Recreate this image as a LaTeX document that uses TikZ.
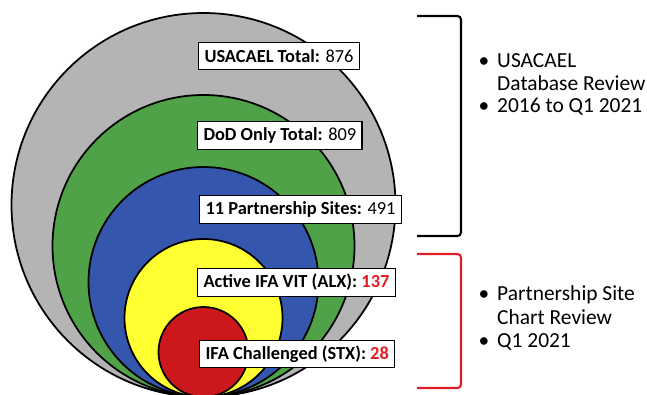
\documentclass[tikz,border=0pt]{standalone}
\usepackage{fontspec}
\setmainfont{Carlito}
\usetikzlibrary{positioning}

\definecolor{allgray}{RGB}{180,180,180}
\definecolor{dodgreen}{RGB}{80,162,72}
\definecolor{siteblue}{RGB}{52,86,172}
\definecolor{vityellow}{RGB}{255,255,50}
\definecolor{stxred}{RGB}{204,24,28}
\definecolor{numred}{RGB}{222,30,36}

\tikzset{
	ring/.style={draw=black, line width=1.5pt},
	countbox/.style={draw=black, fill=white, line width=1.1pt, anchor=west,
		minimum height=0.82cm, inner xsep=5pt,
		font=\fontsize{15.7}{18}\selectfont},
	sidetext/.style={anchor=base west, inner sep=0pt,
		font=\fontsize{18.3}{20}\selectfont},
	sidebullet/.style={anchor=base, inner sep=0pt,
		font=\fontsize{18.3}{20}\selectfont},
	bracket/.style={line width=1.8pt, rounded corners=3pt},
}

\begin{document}
\begin{tikzpicture}[x=0.03cm, y=-0.03cm]
	\useasboundingbox (0,0) rectangle (647,395);
	\def\cx{203.5}
	\def\tb{397}
	% nested circles, all touching at the bottom
	\draw[ring, fill=allgray] (\cx, \tb-192) circle[radius=192];
	\draw[ring, fill=dodgreen] (\cx, \tb-151) circle[radius=151];
	\draw[ring, fill=siteblue] (\cx, \tb-115) circle[radius=115];
	\draw[ring, fill=vityellow] (\cx, \tb-79) circle[radius=79];
	\draw[ring, fill=stxred] (\cx, \tb-45) circle[radius=45];
	% counts
	\node[countbox] (usacael) at (198, 56) {\textbf{USACAEL Total:} 876};
	\node[countbox] (dod) at (197, 135.5) {\textbf{DoD Only Total:} 809};
	\node[countbox] (sites) at (199, 209.5) {\textbf{11 Partnership Sites:} 491};
	\node[countbox] (alx) at (197, 282.5) {\textbf{Active IFA VIT (ALX): \textcolor{numred}{137}}};
	\node[countbox] (stx) at (199, 354) {\textbf{IFA Challenged (STX): \textcolor{numred}{28}}};
	% brackets
	\coordinate (dbtop) at (417, 16);
	\coordinate (dbbot) at (417, 236);
	\coordinate (chtop) at (417, 254);
	\coordinate (chbot) at (417, 388);
	\draw[bracket] (dbtop) -- ++(44,0) |- (dbbot);
	\draw[bracket, numred] (chtop) -- ++(44,0) |- (chbot);
	% side notes
	\node[sidetext] (db1) at (497, 67.5) {USACAEL};
	\node[sidetext] (db2) at (497, 90) {Database Review};
	\node[sidetext] (db3) at (497, 112) {2016 to Q1 2021};
	\node[sidebullet] (b1) at (484, 67.5) {•};
	\node[sidebullet] (b2) at (484, 112) {•};
	\node[sidetext] (ch1) at (497, 300) {Partnership Site};
	\node[sidetext] (ch2) at (497, 324) {Chart Review};
	\node[sidetext] (ch3) at (497, 347) {Q1 2021};
	\node[sidebullet] (b3) at (484, 300) {•};
	\node[sidebullet] (b4) at (484, 347) {•};
\end{tikzpicture}
\end{document}
